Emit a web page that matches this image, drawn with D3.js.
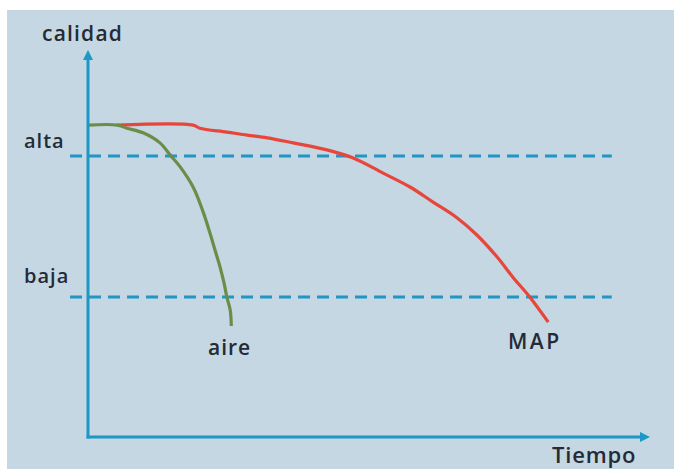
<!DOCTYPE html>
<html><head><meta charset="utf-8">
<script src="https://cdn.jsdelivr.net/npm/d3@7"></script>
<style>
html,body{margin:0;padding:0;background:#fff;}
svg{display:block;}
text{font-family:"Open Sans",sans-serif;fill:#252a37;font-weight:600;}
</style></head>
<body>
<script>
// Data (time 0..100, quality 0..100)
const seriesNames = ["aire", "MAP"];
const aireTime =    [0, 5.2, 6.9, 9.8, 12.8, 14.6, 16.4, 18.7, 20.5, 21.7, 22.6, 23.5, 24.2, 24.7, 25.3, 25.5];
const aireQuality = [80.6, 80.6, 79.8, 78.6, 76.0, 72.9, 69.8, 64.6, 58.1, 52.7, 48.3, 43.9, 39.8, 36.2, 32.8, 28.7];
const mapTime =    [5.2, 18.7, 19.9, 24.7, 28.3, 31.9, 36.5, 42.5, 47.2, 52.5, 57.3, 61.4, 65.7, 69.2, 72.8, 75.6, 78.6, 81.9];
const mapQuality = [80.6, 80.6, 79.8, 78.8, 78.0, 77.3, 76.0, 74.2, 72.1, 68.2, 64.6, 60.7, 56.6, 52.2, 46.5, 41.3, 36.2, 29.7];
const levelNames = ["alta", "baja"];
const levelValues = [72.6, 36.2];
const axisLabels = ["calidad", "Tiempo"];

const W = 674, H = 469;
const svg = d3.select("body").append("svg").attr("width", W).attr("height", H);

svg.append("rect").attr("x", 7).attr("y", 10).attr("width", W - 7).attr("height", H - 10).attr("fill", "#c4d7e2");

const x = d3.scaleLinear().domain([0, 100]).range([88, 650]);
const y = d3.scaleLinear().domain([0, 100]).range([437, 50]);

const axisColor = "#1b98c6";

// reference lines
svg.selectAll("line.level").data(levelValues).enter().append("line")
  .attr("x1", x(-3.2)).attr("x2", x(93.2))
  .attr("y1", d => y(d)).attr("y2", d => y(d))
  .attr("stroke", "#2296c3").attr("stroke-width", 3)
  .attr("stroke-dasharray", "12,7");

// level labels
svg.selectAll("text.level").data(levelNames).enter().append("text")
  .attr("x", 24).attr("y", (d, i) => y(levelValues[i]) - (i === 0 ? 8 : 14))
  .attr("font-size", 20).attr("letter-spacing", 1).text(d => d);

// curves
const line = d3.line().x(d => x(d[0])).y(d => y(d[1])).curve(d3.curveCatmullRom);
svg.append("path").datum(mapTime.map((t, i) => [t, mapQuality[i]]))
  .attr("d", line).attr("fill", "none").attr("stroke", "#e8453b").attr("stroke-width", 3.2);
svg.append("path").datum(aireTime.map((t, i) => [t, aireQuality[i]]))
  .attr("d", line).attr("fill", "none").attr("stroke", "#6a8e48").attr("stroke-width", 3.2);

// axes
svg.append("line").attr("x1", x(0)).attr("x2", x(0)).attr("y1", y(0) + 1.5).attr("y2", y(100) + 6)
  .attr("stroke", axisColor).attr("stroke-width", 3);
svg.append("line").attr("x1", x(0) - 1.5).attr("x2", x(100) - 6).attr("y1", y(0)).attr("y2", y(0))
  .attr("stroke", axisColor).attr("stroke-width", 3);
// arrowheads
svg.append("path").attr("d", `M${x(0)},${y(100)} L${x(0) + 5},${y(100) + 10} L${x(0) - 5},${y(100) + 10}Z`).attr("fill", axisColor);
svg.append("path").attr("d", `M${x(100)},${y(0)} L${x(100) - 10},${y(0) - 5} L${x(100) - 10},${y(0) + 5}Z`).attr("fill", axisColor);

// axis labels
svg.append("text").attr("x", 42).attr("y", 41).attr("font-size", 21).attr("letter-spacing", 1.2).text(axisLabels[0]);
svg.append("text").attr("x", 552).attr("y", 463).attr("font-size", 22).attr("letter-spacing", 0.8).text(axisLabels[1]);

// series labels
svg.append("text").attr("x", 208).attr("y", 355).attr("font-size", 21).attr("letter-spacing", 1).text(seriesNames[0]);
svg.append("text").attr("x", 508).attr("y", 349).attr("font-size", 21).attr("letter-spacing", 2.5).text(seriesNames[1]);
</script>
</body></html>
